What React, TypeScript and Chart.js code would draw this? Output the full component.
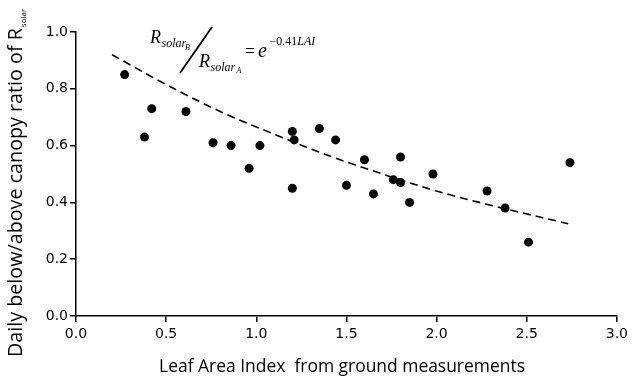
import React, { useEffect, useRef } from "react";
import { Chart, registerables } from "chart.js";

Chart.register(...registerables);

// Observed points: Leaf Area Index (x) vs below/above canopy Rsolar ratio (y)
const laiValues = [0.27, 0.42, 0.61, 0.38, 0.76, 0.86, 1.02, 0.96, 1.2, 1.21, 1.35, 1.44, 1.2, 1.5, 1.6, 1.65, 1.8, 1.76, 1.8, 1.85, 1.98, 2.28, 2.38, 2.51, 2.74];
const ratioValues = [0.85, 0.73, 0.72, 0.63, 0.61, 0.6, 0.6, 0.52, 0.65, 0.62, 0.66, 0.62, 0.45, 0.46, 0.55, 0.43, 0.56, 0.48, 0.47, 0.4, 0.5, 0.44, 0.38, 0.26, 0.54];

// Dashed fitted curve
const fitLai = [0.2, 0.5, 0.8, 1.1, 1.4, 1.7, 2.0, 2.3, 2.73];
const fitRatio = [0.92, 0.815, 0.72, 0.64, 0.565, 0.5, 0.44, 0.39, 0.325];

const xTickStep = 0.5;
const yTickStep = 0.2;
const xTitle = "Leaf Area Index  from ground measurements";
const yTitleMain = "Daily below/above canopy ratio of R";
const yTitleSub = "solar";

const titlesPlugin = {
  id: "customText",
  afterDraw(chart: any) {
    const ctx: CanvasRenderingContext2D = chart.ctx;
    ctx.save();
    ctx.fillStyle = "#000";
    ctx.strokeStyle = "#000";

    // X axis title, fitted to target width
    let fs = 16;
    ctx.font = `${fs}px 'Open Sans'`;
    let w = ctx.measureText(xTitle).width;
    fs = (fs * 366) / w;
    ctx.font = `${fs}px 'Open Sans'`;
    ctx.textAlign = "center";
    ctx.textBaseline = "alphabetic";
    ctx.fillText(xTitle, 342, 372);

    // Y axis title (rotated) with subscript
    let fy = 16;
    ctx.font = `${fy}px 'Open Sans'`;
    w = ctx.measureText(yTitleMain).width;
    fy = (fy * 329) / w;
    ctx.save();
    ctx.translate(22, 357);
    ctx.rotate(-Math.PI / 2);
    ctx.textAlign = "left";
    ctx.font = `${fy}px 'Open Sans'`;
    ctx.fillText(yTitleMain, 0, 0);
    const mw = ctx.measureText(yTitleMain).width;
    ctx.font = `8px 'Open Sans'`;
    ctx.fillText(yTitleSub, mw + 1, 4);
    ctx.restore();

    // Formula
    ctx.textAlign = "left";
    ctx.textBaseline = "alphabetic";
    const serif = "'Liberation Serif'";
    ctx.font = `italic 18px ${serif}`;
    ctx.fillText("R", 150, 43);
    ctx.font = `italic 12px ${serif}`;
    ctx.fillText("solar", 161.5, 47);
    ctx.font = `italic 8px ${serif}`;
    ctx.fillText("B", 185, 49.5);

    ctx.lineWidth = 1.8;
    ctx.beginPath();
    ctx.moveTo(180, 73);
    ctx.lineTo(212, 27);
    ctx.stroke();

    ctx.font = `italic 18px ${serif}`;
    ctx.fillText("R", 199, 67);
    ctx.font = `italic 12px ${serif}`;
    ctx.fillText("solar", 210.5, 71);
    ctx.font = `italic 8px ${serif}`;
    ctx.fillText("A", 236.5, 73);

    ctx.font = `18px ${serif}`;
    ctx.fillText("=", 245, 56.5);
    ctx.font = `italic 20px ${serif}`;
    ctx.fillText("e", 258, 57);
    ctx.font = `12px ${serif}`;
    ctx.fillText("\u22120.41", 269.5, 45);
    const ew = ctx.measureText("\u22120.41").width;
    ctx.font = `italic 12px ${serif}`;
    ctx.fillText("LAI", 269.5 + ew, 45);

    ctx.restore();
  },
};

export default function App() {
  const canvasRef = useRef<HTMLCanvasElement | null>(null);

  useEffect(() => {
    if (!canvasRef.current) return;
    const points = laiValues.map((x, i) => ({ x, y: ratioValues[i] }));
    const fit = fitLai.map((x, i) => ({ x, y: fitRatio[i] }));
    const tickFont = { family: "'DejaVu Sans'", size: 14 };
    const chart = new Chart(canvasRef.current, {
      type: "scatter",
      data: {
        datasets: [
          {
            data: fit,
            showLine: true,
            borderColor: "#000",
            borderWidth: 1.6,
            borderDash: [8, 5],
            pointRadius: 0,
            tension: 0.4,
            cubicInterpolationMode: "monotone",
            fill: false,
          } as any,
          {
            data: points,
            backgroundColor: "#000",
            borderColor: "#000",
            borderWidth: 0,
            pointRadius: 4.5,
            showLine: false,
          },
        ],
      },
      options: {
        animation: false,
        responsive: false,
        layout: { padding: { left: 0, right: 14, top: 32, bottom: 0 } },
        plugins: { legend: { display: false }, tooltip: { enabled: false } },
        scales: {
          x: {
            type: "linear",
            min: 0,
            max: 3,
            ticks: {
              stepSize: xTickStep,
              callback: (v: any) => Number(v).toFixed(1),
              color: "#000",
              font: tickFont,
              padding: 4,
              maxRotation: 0,
            },
            grid: { drawOnChartArea: false, drawTicks: true, tickLength: 6, color: "#000", lineWidth: 1.5 },
            border: { color: "#000", width: 1.5 },
            afterFit: (s: any) => {
              s.height = 63;
            },
          },
          y: {
            type: "linear",
            min: 0,
            max: 1,
            ticks: {
              stepSize: yTickStep,
              callback: (v: any) => Number(v).toFixed(1),
              color: "#000",
              font: tickFont,
              padding: 2,
            },
            grid: { drawOnChartArea: false, drawTicks: true, tickLength: 6, color: "#000", lineWidth: 1.5 },
            border: { color: "#000", width: 1.5 },
            afterFit: (s: any) => {
              s.width = 76;
            },
          },
        },
      },
      plugins: [titlesPlugin],
    });
    return () => chart.destroy();
  }, []);

  return (
    <div style={{ position: "absolute", left: 0, top: 0, width: 632, height: 379, background: "#fff" }}>
      <canvas ref={canvasRef} width={632} height={379} />
    </div>
  );
}
